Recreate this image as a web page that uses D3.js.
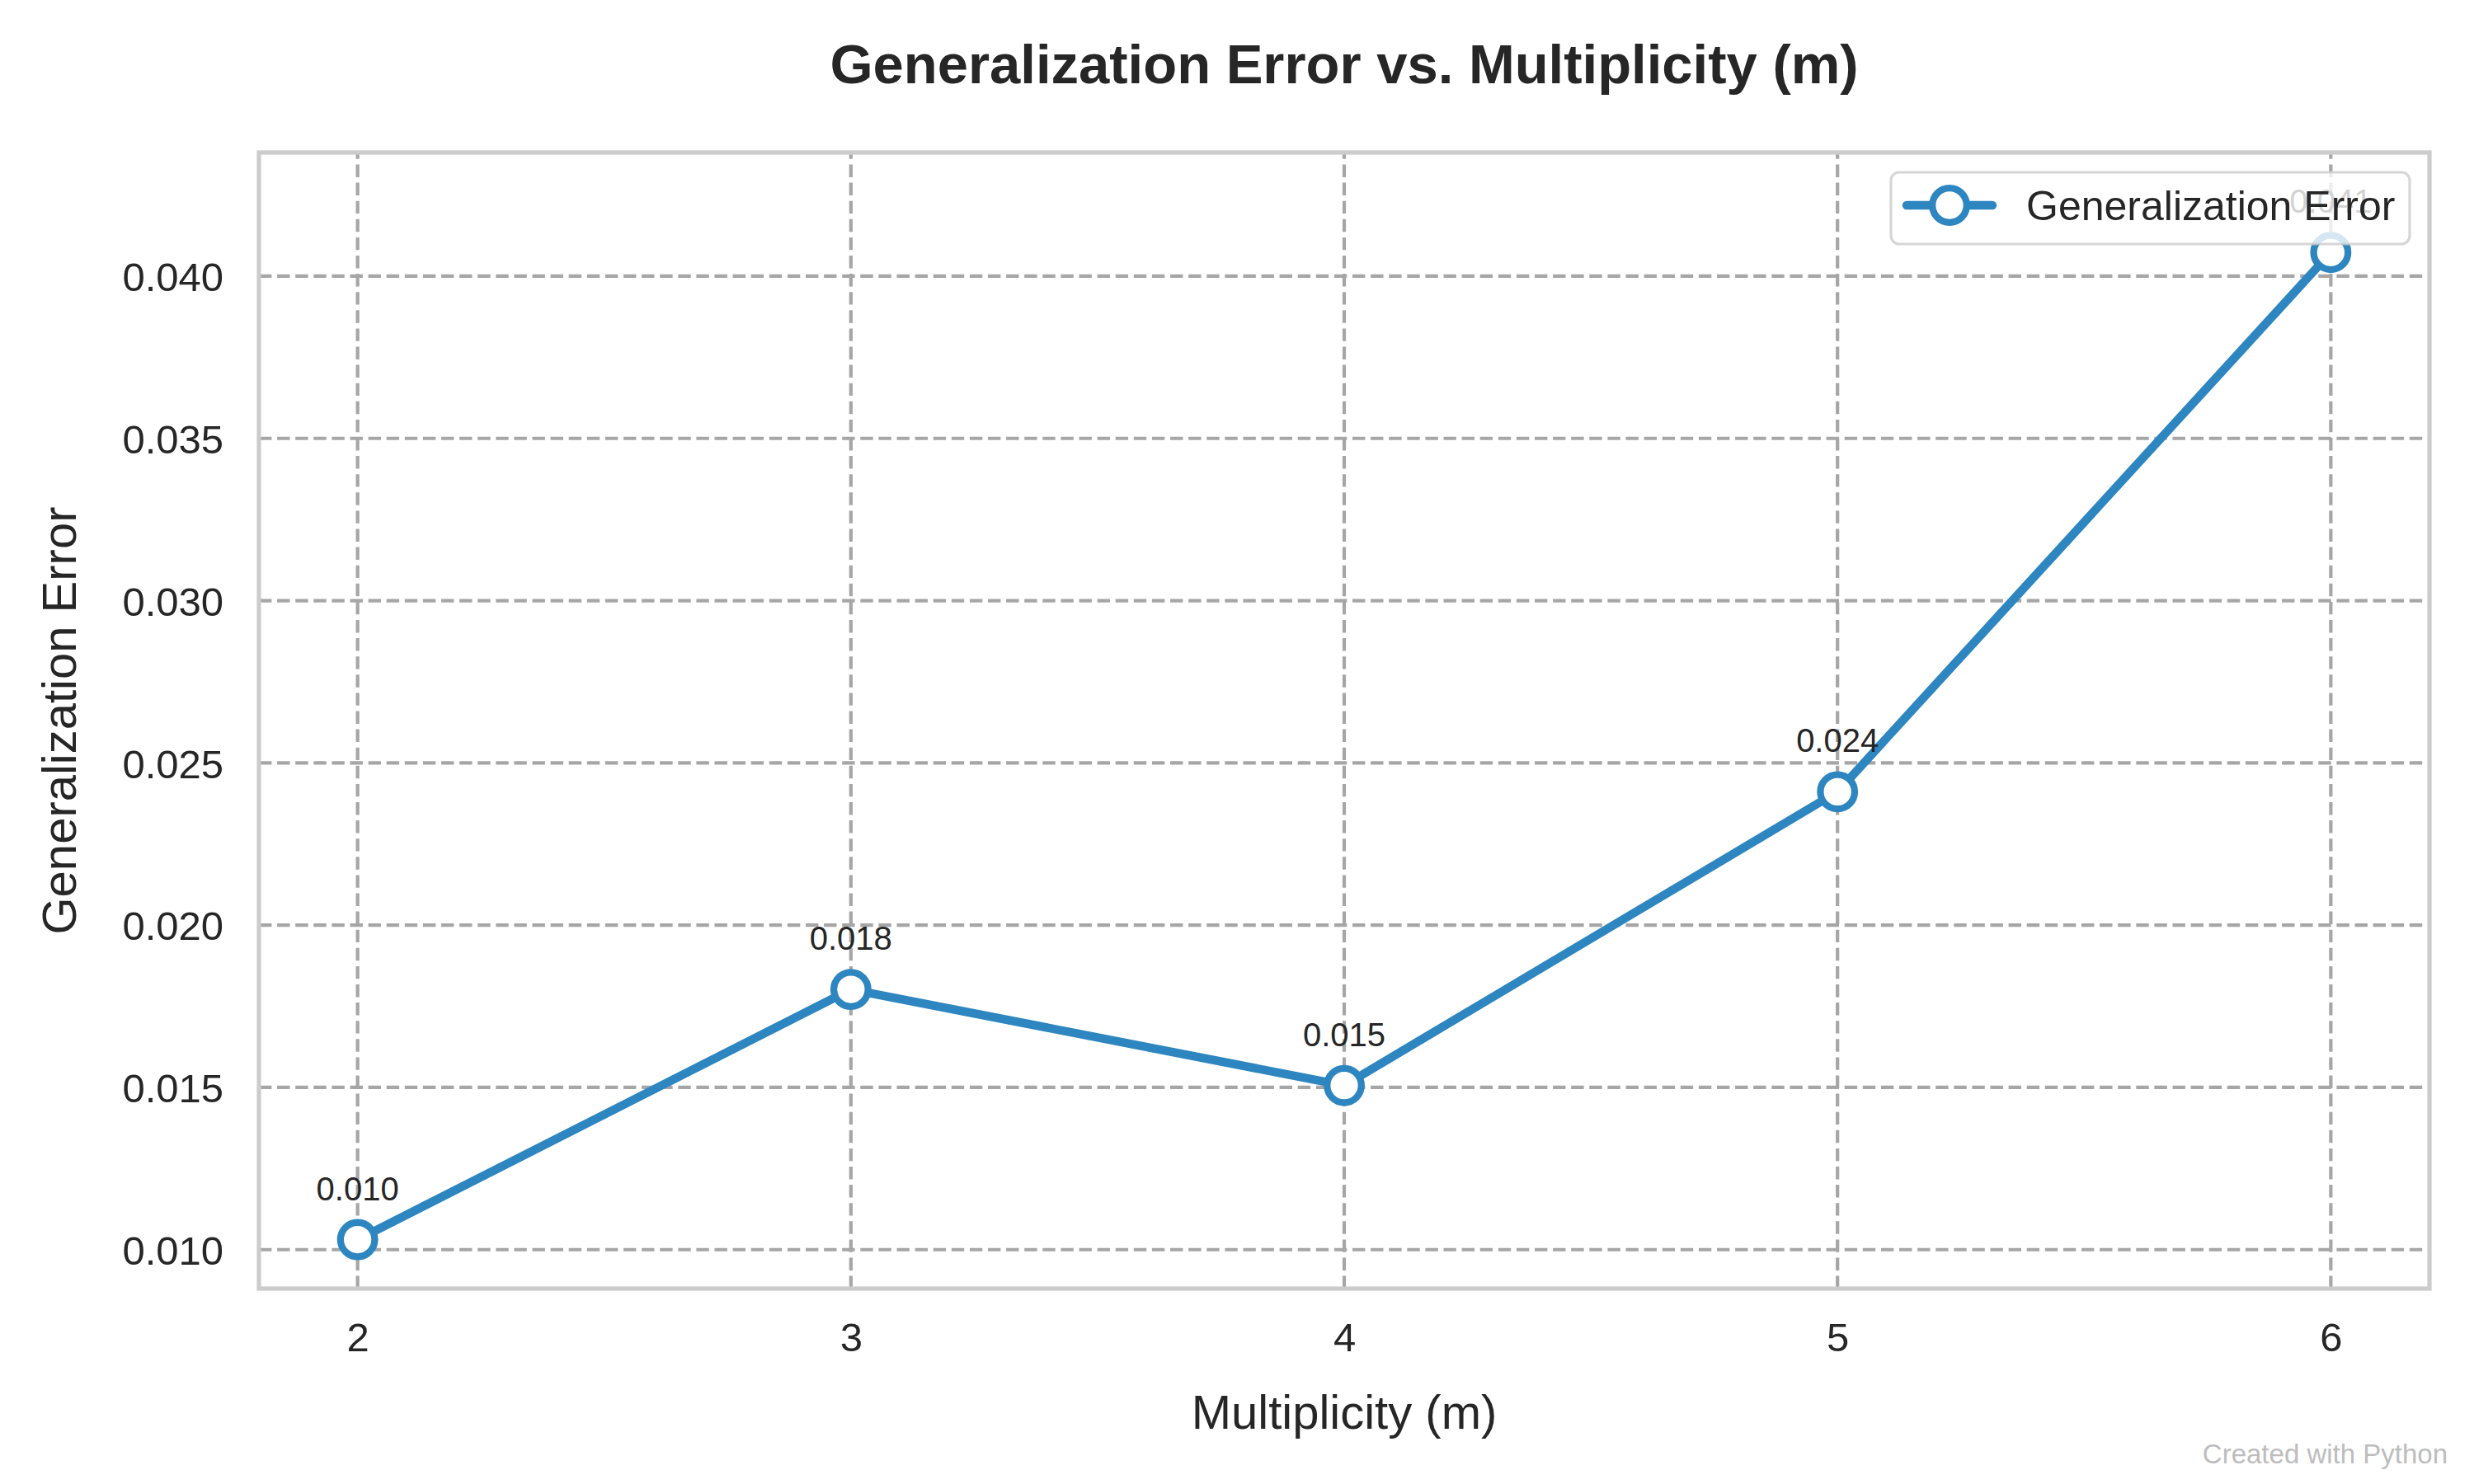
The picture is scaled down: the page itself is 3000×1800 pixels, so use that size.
<!DOCTYPE html>
<html>
<head>
<meta charset="utf-8">
<script src="https://cdn.jsdelivr.net/npm/d3@7"></script>
<style>
  html, body { margin: 0; padding: 0; background: #ffffff; }
  svg { display: block; }
</style>
</head>
<body>
<script>
// ---- data ----
const multiplicity = [2, 3, 4, 5, 6];
const genError = [0.01031, 0.01802, 0.01506, 0.02411, 0.04073];
const pointLabels = ["0.010", "0.018", "0.015", "0.024", "0.041"];
const xTicks = [2, 3, 4, 5, 6];
const yTicks = [0.010, 0.015, 0.020, 0.025, 0.030, 0.035, 0.040];
const seriesName = "Generalization Error";
const titleText = "Generalization Error vs. Multiplicity (m)";
const xLabelText = "Multiplicity (m)";
const yLabelText = "Generalization Error";
const watermarkText = "Created with Python";

// ---- layout ----
const W = 3000, H = 1800;
const L = 314, R = 2946, T = 185, B = 1563;
const FONT = "'Liberation Sans', Arial, Helvetica, sans-serif";
const TXT = "#262626";
const LINE = "#2E86C1";

const svg = d3.select("body").append("svg")
  .attr("width", W).attr("height", H)
  .attr("viewBox", `0 0 ${W} ${H}`);

svg.append("rect").attr("width", W).attr("height", H).attr("fill", "#ffffff");

const x = d3.scaleLinear().domain([1.8, 6.2]).range([L, R]);
const y = d3.scaleLinear().domain([0.0088, 0.04381]).range([B, T]);

// ---- grid ----
const grid = svg.append("g");
grid.selectAll("line.hg").data(yTicks).join("line")
  .attr("x1", L).attr("x2", R)
  .attr("y1", d => y(d)).attr("y2", d => y(d))
  .attr("stroke", "#a6a6a6").attr("stroke-width", 4.2)
  .attr("stroke-dasharray", "15.4,6.7");
grid.selectAll("line.vg").data(xTicks).join("line")
  .attr("x1", d => x(d)).attr("x2", d => x(d))
  .attr("y1", B).attr("y2", T)
  .attr("stroke", "#a6a6a6").attr("stroke-width", 4.2)
  .attr("stroke-dasharray", "15.4,6.7");

// ---- axes tick labels ----
const xAxis = d3.axisBottom(x).tickValues(xTicks).tickSize(0).tickPadding(0).tickFormat(d3.format("d"));
const gx = svg.append("g").attr("transform", `translate(0,${B})`).call(xAxis);
gx.select(".domain").remove();
gx.selectAll("text")
  .attr("y", 76).attr("dy", null)
  .attr("font-family", FONT).attr("font-size", 49).attr("fill", TXT);

const yAxis = d3.axisLeft(y).tickValues(yTicks).tickSize(0).tickPadding(43).tickFormat(d3.format(".3f"));
const gy = svg.append("g").attr("transform", `translate(${L},0)`).call(yAxis);
gy.select(".domain").remove();
gy.selectAll("text")
  .attr("dy", "0.36em")
  .attr("font-family", FONT).attr("font-size", 49).attr("fill", TXT);

// ---- series ----
const pts = multiplicity.map((m, i) => ({ m, v: genError[i], lab: pointLabels[i] }));
const lineGen = d3.line().x(d => x(d.m)).y(d => y(d.v));
svg.append("path").datum(pts)
  .attr("d", lineGen)
  .attr("fill", "none").attr("stroke", LINE)
  .attr("stroke-width", 10.4).attr("stroke-linejoin", "round").attr("stroke-linecap", "round");

svg.append("g").selectAll("circle").data(pts).join("circle")
  .attr("cx", d => x(d.m)).attr("cy", d => y(d.v)).attr("r", 20.8)
  .attr("fill", "#ffffff").attr("stroke", LINE).attr("stroke-width", 8.3);

// annotations
svg.append("g").selectAll("text").data(pts).join("text")
  .attr("x", d => x(d.m)).attr("y", d => y(d.v) - 48)
  .attr("text-anchor", "middle")
  .attr("font-family", FONT).attr("font-size", 40).attr("fill", TXT)
  .text(d => d.lab);

// ---- spines ----
svg.append("rect")
  .attr("x", L).attr("y", T).attr("width", R - L).attr("height", B - T)
  .attr("fill", "none").attr("stroke", "#cccccc").attr("stroke-width", 5.2);

// ---- legend ----
const lg = svg.append("g");
lg.append("rect")
  .attr("x", 2293).attr("y", 209).attr("width", 629).attr("height", 87)
  .attr("rx", 10).attr("ry", 10)
  .attr("fill", "#ffffff").attr("fill-opacity", 0.8)
  .attr("stroke", "#cccccc").attr("stroke-opacity", 0.8).attr("stroke-width", 3.2);
lg.append("line")
  .attr("x1", 2312).attr("x2", 2416).attr("y1", 249).attr("y2", 249)
  .attr("stroke", LINE).attr("stroke-width", 10.4).attr("stroke-linecap", "round");
lg.append("circle")
  .attr("cx", 2364).attr("cy", 249).attr("r", 20.8)
  .attr("fill", "#ffffff").attr("stroke", LINE).attr("stroke-width", 8.3);
lg.append("text")
  .attr("x", 2457).attr("y", 267)
  .attr("font-family", FONT).attr("font-size", 50).attr("fill", TXT)
  .text(seriesName);

// ---- titles ----
svg.append("text")
  .attr("x", (L + R) / 2).attr("y", 101)
  .attr("text-anchor", "middle")
  .attr("font-family", FONT).attr("font-size", 67).attr("font-weight", "bold").attr("fill", TXT)
  .text(titleText);

svg.append("text")
  .attr("x", (L + R) / 2).attr("y", 1733)
  .attr("text-anchor", "middle")
  .attr("font-family", FONT).attr("font-size", 58).attr("fill", TXT)
  .text(xLabelText);

svg.append("text")
  .attr("transform", `translate(92,${(T + B) / 2}) rotate(-90)`)
  .attr("text-anchor", "middle")
  .attr("font-family", FONT).attr("font-size", 58).attr("fill", TXT)
  .text(yLabelText);

svg.append("text")
  .attr("x", 2968).attr("y", 1775)
  .attr("text-anchor", "end")
  .attr("font-family", FONT).attr("font-size", 33).attr("fill", "#bdbdbd")
  .text(watermarkText);
</script>
</body>
</html>
